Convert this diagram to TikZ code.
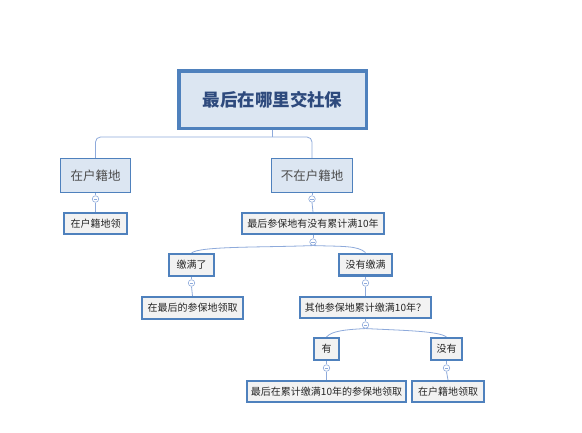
\documentclass[tikz,border=0pt]{standalone}
\usepackage{fontspec}
\newfontfamily\cjk{Noto Sans CJK SC}
\usetikzlibrary{calc,backgrounds}
\definecolor{bord}{HTML}{4F81BD}
\definecolor{lfill}{HTML}{DCE6F2}
\definecolor{gfill}{HTML}{F2F2F2}
\definecolor{conn}{HTML}{8EAADB}
\definecolor{rtext}{HTML}{2E4A7D}
\begin{document}
\begin{tikzpicture}[x=1pt,y=1pt,
  rootbox/.style={draw=bord, line width=3.5pt, fill=lfill, text=rtext,
    font=\cjk\bfseries\fontsize{17.5}{20}\selectfont, minimum width=187.5pt, minimum height=57.5pt, inner sep=0pt},
  lonebox/.style={draw=bord, line width=1.2pt, fill=lfill, text=black!70,
    font=\cjk\fontsize{12.5}{14}\selectfont, minimum height=33.8pt, inner sep=0pt},
  leafbox/.style={draw=bord, line width=2.4pt, fill=gfill, text=black!85,
    font=\cjk\fontsize{10}{12}\selectfont, minimum height=20.6pt, inner sep=0pt},
  tog/.style={circle, draw=conn, fill=white, line width=0.6pt, minimum size=6.5pt, inner sep=0pt,
    path picture={\draw[conn, line width=0.5pt] ([xshift=1.6pt]path picture bounding box.west) -- ([xshift=-1.6pt]path picture bounding box.east);}},
  link/.style={draw=conn, line width=0.8pt}
]
\useasboundingbox (0,0) rectangle (582,-432);

% nodes
\node[rootbox] (root) at (272.5,-99.5) {最后在哪里交社保};
\node[lonebox, minimum width=69.8pt] (l1a) at (95.5,-175.5) {在户籍地};
\node[lonebox, minimum width=80.8pt] (l1b) at (312,-175.5) {不在户籍地};
\node[leafbox, minimum width=62.6pt] (a1) at (95.5,-223.5) {在户籍地领};
\node[leafbox, minimum width=141.6pt] (b1) at (313,-223.5) {最后参保地有没有累计满10年};
\node[leafbox, minimum width=44.6pt, minimum height=21.6pt] (b2) at (191.5,-265) {缴满了};
\node[leafbox, minimum width=52.6pt, minimum height=21.6pt] (b3) at (365.5,-264.5) {没有缴满};
\node[leafbox, minimum width=100.6pt, minimum height=21.6pt] (b4) at (192.5,-308) {在最后的参保地领取};
\node[leafbox, minimum width=130.6pt] (b5) at (365.5,-307.5) {其他参保地累计缴满10年？};
\node[leafbox, minimum width=24.6pt, minimum height=21.6pt] (b6) at (326.5,-349) {有};
\node[leafbox, minimum width=30.6pt, minimum height=21.6pt] (b7) at (446.5,-349) {没有};
\node[leafbox, minimum width=158.6pt] (b8) at (326.5,-391.5) {最后在累计缴满10年的参保地领取};
\node[leafbox, minimum width=71.6pt] (b9) at (448,-391.5) {在户籍地领取};

% toggles
\node[tog] (ta) at (l1a.south |- 0,-199) {};
\node[tog] (tb) at (l1b.south |- 0,-199) {};
\node[tog] (tb1) at (b1.south |- 0,-242) {};
\node[tog] (tb2) at (b2.south |- 0,-283) {};
\node[tog] (tb3) at (b3.south |- 0,-283) {};
\node[tog] (tb5) at (b5.south |- 0,-325) {};
\node[tog] (tb6) at (b6.south |- 0,-368) {};
\node[tog] (tb7) at (b7.south |- 0,-368) {};

\begin{scope}[on background layer]
  \fill[white] (0,0) rectangle (582,-432);
  \coordinate (junc) at (root.south |- 0,-137);
  \draw[link] (root.south) -- (junc);
  \draw[link, rounded corners=5pt] (l1a.north) |- (junc) -| (l1b.north);
  \draw[link] (l1a.south) -- (ta.north);
  \draw[link] (ta.south) -- (a1.north);
  \draw[link] (l1b.south) -- (tb.north);
  \draw[link] (tb.south) -- (b1.north);
  \draw[link] (b1.south) -- (tb1.north);
  \draw[link] (tb1.south) .. controls +(-50,-2) and +(8,7) .. (b2.north);
  \draw[link] (tb1.south) .. controls +(30,-1) and +(-8,7) .. (b3.north);
  \draw[link] (b2.south) -- (tb2.north);
  \draw[link] (tb2.south) -- (b4.north);
  \draw[link] (b3.south) -- (tb3.north);
  \draw[link] (tb3.south) -- (b5.north);
  \draw[link] (b5.south) -- (tb5.north);
  \draw[link] (tb5.south) .. controls +(-20,-1) and +(5,6) .. (b6.north);
  \draw[link] (tb5.south) .. controls +(40,-2) and +(-8,6) .. (b7.north);
  \draw[link] (b6.south) -- (tb6.north);
  \draw[link] (tb6.south) -- (b8.north);
  \draw[link] (b7.south) -- (tb7.north);
  \draw[link] (tb7.south) -- (b9.north);
\end{scope}
\end{tikzpicture}
\end{document}
